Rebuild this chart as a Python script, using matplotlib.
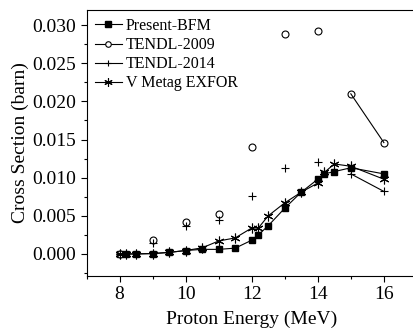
import numpy as np
import matplotlib
matplotlib.use('Agg')
import matplotlib.pyplot as plt
from matplotlib.lines import Line2D
from matplotlib.ticker import MultipleLocator

plt.rcParams['font.family'] = ['Liberation Serif', 'DejaVu Serif']
plt.rcParams['mathtext.fontset'] = 'stix'

# energies (MeV)
e_bfm = [8, 8.2, 8.5, 9, 9.5, 10, 10.5, 11, 11.5, 12, 12.2, 12.5, 13, 13.5, 14, 14.2, 14.5, 15, 16]
bfm = [0.0, 0.0, 0.0, 0.00005, 0.0002, 0.00045, 0.0006, 0.0006, 0.00076, 0.0018, 0.0025,
       0.0037, 0.0060, 0.0081, 0.0098, 0.0105, 0.0108, 0.0113, 0.0105]
exfor = [0.0, 0.0, 0.0, 0.00005, 0.0002, 0.00045, 0.0008, 0.0017, 0.0021, 0.0034, 0.0034,
         0.0050, 0.0067, 0.0081, 0.0093, 0.0107, 0.0118, 0.0115, 0.0098]

e_tendl = [8, 9, 10, 11, 12, 13, 14, 15, 16]
tendl09 = [0.0, 0.0018, 0.0042, 0.0053, 0.0140, 0.0289, 0.0293, 0.0210, 0.0146]
tendl14 = [0.0, 0.0015, 0.0037, 0.0044, 0.0076, 0.0113, 0.0120, 0.0105, 0.0082]

fig = plt.figure(figsize=(4.14, 3.31), dpi=100)
ax = fig.add_axes([0.209, 0.166, 0.798, 0.804])

lw = 0.8
ax.plot(e_bfm, bfm, ls='-', color='k', lw=lw, marker='s', ms=5, mfc='k')
ax.plot(e_tendl, tendl09, ls='none', color='k', marker='o', ms=5, mfc='white', mew=0.8)
ax.plot(e_tendl[-2:], tendl09[-2:], ls='-', color='k', lw=lw)
ax.plot(e_tendl, tendl14, ls='none', color='k', marker='+', ms=6, mew=0.8)
ax.plot(e_tendl[-2:], tendl14[-2:], ls='-', color='k', lw=lw)
ax.plot(e_bfm, exfor, ls='-', color='k', lw=lw, marker=(6, 2, 0), ms=7, mew=0.8)

handles = [
    Line2D([], [], color='k', lw=lw, marker='s', ms=4, mfc='k'),
    Line2D([], [], color='k', lw=lw, marker='o', ms=4, mfc='white', mew=0.8),
    Line2D([], [], color='k', lw=lw, marker='+', ms=5, mew=0.8),
    Line2D([], [], color='k', lw=lw, marker=(6, 2, 0), ms=6, mew=0.8),
]
labels = ['Present-BFM', 'TENDL-2009', 'TENDL-2014', 'V Metag EXFOR']
ax.legend(handles, labels, loc='upper left', frameon=False, fontsize=11.5,
          handlelength=1.7, handletextpad=0.25, labelspacing=0.2,
          borderaxespad=0.0, borderpad=0.5, bbox_to_anchor=(0.0, 1.0))

ax.set_xlim(7, 17)
ax.set_ylim(-0.0029, 0.032)
ax.xaxis.set_major_locator(MultipleLocator(2))
ax.xaxis.set_minor_locator(MultipleLocator(1))
ax.yaxis.set_major_locator(MultipleLocator(0.005))
ax.yaxis.set_minor_locator(MultipleLocator(0.0025))
ax.yaxis.set_major_formatter(matplotlib.ticker.FormatStrFormatter('%.3f'))
ax.tick_params(which='major', direction='out', length=4, width=0.8, labelsize=14)
ax.tick_params(which='minor', direction='out', length=2.5, width=0.8)
for s in ax.spines.values():
    s.set_linewidth(0.8)

ax.set_xlabel('Proton Energy (MeV)', fontsize=14, labelpad=5)
ax.set_ylabel('Cross Section (barn)', fontsize=14, labelpad=2)

fig.savefig('out.png', dpi=100)
